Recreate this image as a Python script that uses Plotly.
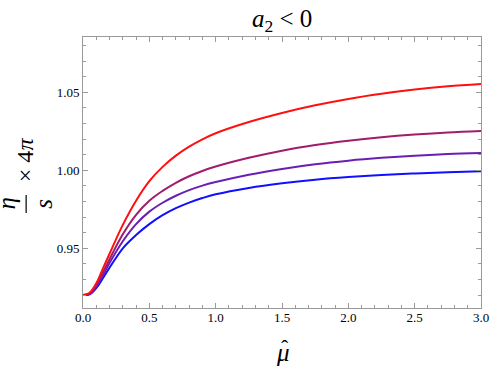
import plotly.graph_objects as go

mu = [0.0, 0.05, 0.1, 0.15, 0.2, 0.3, 0.4, 0.5, 0.6, 0.7, 0.8, 0.9, 1.0,
      1.25, 1.5, 1.75, 2.0, 2.25, 2.5, 2.75, 3.0]
eta_red = [0.920, 0.9215, 0.9275, 0.937, 0.9465, 0.965, 0.9805, 0.993, 1.0022, 1.0094, 1.0152,
           1.0199, 1.0238, 1.031, 1.0368, 1.0417, 1.0458, 1.0491, 1.0518, 1.0539, 1.0554]
eta_maroon = [0.920, 0.921, 0.9265, 0.9345, 0.943, 0.959, 0.9715, 0.9805, 0.9868, 0.992, 0.9962,
              0.9996, 1.0024, 1.008, 1.0126, 1.0162, 1.019, 1.0212, 1.0229, 1.0242, 1.0252]
eta_purple = [0.920, 0.9207, 0.9255, 0.9325, 0.9405, 0.9545, 0.9655, 0.9735, 0.9792, 0.9837, 0.9873,
              0.9902, 0.9925, 0.9972, 1.0009, 1.0039, 1.0062, 1.008, 1.0094, 1.0104, 1.0111]
eta_blue = [0.920, 0.9205, 0.9245, 0.9308, 0.9375, 0.950, 0.9585, 0.9655, 0.9712, 0.9757, 0.9793,
            0.9822, 0.9846, 0.9887, 0.9917, 0.994, 0.9957, 0.997, 0.998, 0.9988, 0.9994]

series = [(eta_blue, "#1010ff"), (eta_purple, "#6a1fb4"), (eta_maroon, "#a01c6c"), (eta_red, "#ff1010")]

fig = go.Figure()
for ys, col in series:
    fig.add_trace(go.Scatter(x=mu, y=ys, mode="lines", line=dict(color=col, width=2, shape="spline"),
                             showlegend=False, hoverinfo="skip"))

W, H = 498, 370
L, R, T, B = 83, 9, 37, 62
pw, ph = W - L - R, H - T - B

def px2paper(x, y):
    return (x - L) / pw, (H - B - y) / ph

serif = "Liberation Serif, Tinos, Times New Roman, Times, serif"
axcol = "#9a9a9a"
common = dict(showgrid=False, zeroline=False, showline=True, linecolor=axcol, linewidth=1,
              mirror="ticks", ticks="inside", ticklen=5, tickcolor=axcol, tickwidth=1,
              tickfont=dict(family=serif, size=13, color="black"))

fig.update_xaxes(range=[0, 3], tickvals=[0, 0.5, 1.0, 1.5, 2.0, 2.5, 3.0],
                 ticktext=["0.0", "0.5", "1.0", "1.5", "2.0", "2.5", "3.0"],
                 minor=dict(ticks="inside", dtick=0.1, ticklen=3, tickcolor=axcol),
                 ticklabelstandoff=-3, ticklabeloverflow="allow", **common)
fig.update_yaxes(range=[0.9117, 1.0855], tickvals=[0.95, 1.0, 1.05],
                 ticktext=["0.95", "1.00", "1.05"],
                 minor=dict(ticks="inside", dtick=0.01, tick0=0.9, ticklen=3, tickcolor=axcol),
                 **common)

def ann(px, py, text, size, angle=0):
    x, y = px2paper(px, py)
    return dict(x=x, y=y, xref="paper", yref="paper", showarrow=False, xanchor="center",
                yanchor="middle", textangle=angle, text=text,
                font=dict(family=serif, size=size, color="black"))

anns = [
    ann(286, 21, "<i>a</i><sub>2</sub> &lt; 0", 25),
    ann(287, 352, "<i>μ</i>", 25),
    ann(289, 347, "ˆ", 22),
    ann(4, 204, "<i>η</i>", 25, -90),
    ann(42, 204, "<i>s</i>", 25, -90),
    ann(24, 160, "× 4<i>π</i>", 24, -90),
]
fig.update_layout(annotations=anns)

b0x, b0y = px2paper(25, 195)
b1x, b1y = px2paper(25, 213)
fig.add_shape(type="line", xref="paper", yref="paper", x0=b0x, y0=b0y, x1=b1x, y1=b1y,
              line=dict(color="black", width=1.2))

fig.update_layout(width=W, height=H, margin=dict(l=L, r=R, t=T, b=B),
                  plot_bgcolor="white", paper_bgcolor="white")

fig.write_html("out.html", config={"displayModeBar": False},
               post_script="document.body.style.margin='0';")
